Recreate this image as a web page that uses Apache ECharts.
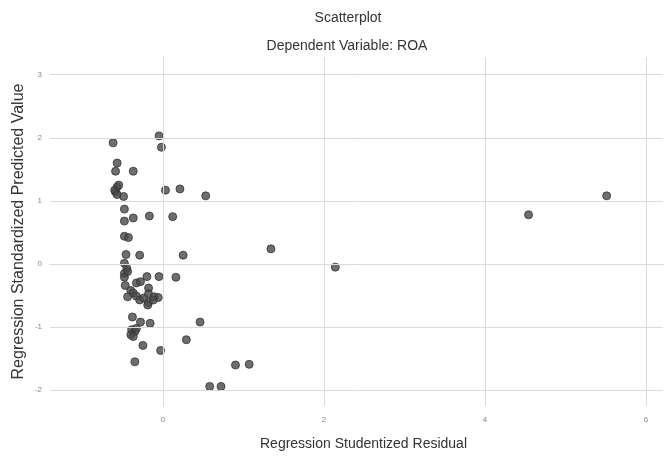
<!DOCTYPE html>
<html>
<head>
<meta charset="utf-8">
<script src="https://cdn.jsdelivr.net/npm/echarts@6/dist/echarts.min.js"></script>
<style>html,body{margin:0;padding:0;background:#fff}#c{width:665px;height:457px}</style>
</head>
<body>
<div id="c"></div>
<script>
var residuals = [-0.05,-0.62,-0.02,-0.57,-0.59,-0.37,-0.57,-0.59,-0.60,-0.55,-0.57,-0.49,0.03,0.21,0.53,
 -0.48,-0.48,-0.37,-0.17,0.12,-0.48,-0.43,1.34,-0.46,-0.29,0.25,
 -0.48,-0.45,-0.48,-0.44,-0.48,-0.20,-0.05,0.16,-0.33,-0.28,-0.47,
 -0.40,-0.37,-0.44,-0.33,-0.29,-0.24,-0.18,-0.18,-0.11,-0.06,-0.18,-0.19,-0.12,
 -0.38,-0.28,-0.16,0.46,-0.39,-0.35,-0.33,-0.40,-0.37,0.29,-0.25,-0.03,-0.35,0.90,1.07,0.58,0.72,
 2.14,4.54,5.51];
var predicted = [2.03,1.92,1.85,1.60,1.47,1.47,1.22,1.14,1.17,1.25,1.10,1.07,1.17,1.19,1.08,
 0.87,0.68,0.73,0.76,0.75,0.44,0.42,0.24,0.15,0.14,0.14,
 0.01,-0.07,-0.15,-0.12,-0.21,-0.20,-0.20,-0.21,-0.30,-0.28,-0.34,
 -0.42,-0.46,-0.52,-0.51,-0.57,-0.54,-0.38,-0.47,-0.52,-0.53,-0.61,-0.65,-0.57,
 -0.84,-0.92,-0.94,-0.92,-1.04,-1.07,-1.02,-1.12,-1.15,-1.20,-1.29,-1.37,-1.55,-1.60,-1.59,-1.94,-1.94,
 -0.05,0.78,1.08];
var xTicks = [0, 2, 4, 6];
var yTicks = [-2, -1, 0, 1, 2, 3];

var points = residuals.map(function (x, i) { return [x, predicted[i]]; });
var gridLines = xTicks.map(function (v) { return { xAxis: v }; })
  .concat(yTicks.map(function (v) { return { yAxis: v }; }));

var chart = echarts.init(document.getElementById('c'));
var font = 'Liberation Sans, Arial, sans-serif';
chart.setOption({
  animation: false,
  backgroundColor: '#fff',
  title: [
    { text: 'Scatterplot', left: 343, top: 6, textAlign: 'center',
      textStyle: { fontSize: 14, fontWeight: 'normal', color: '#333', fontFamily: font } },
    { text: 'Dependent Variable: ROA', left: 342, top: 34, textAlign: 'center',
      textStyle: { fontSize: 14, fontWeight: 'normal', color: '#333', fontFamily: font } }
  ],
  grid: { left: 50, right: 2, top: 57, bottom: 51, containLabel: false },
  xAxis: {
    type: 'value', min: -1.404, max: 6.21,
    name: 'Regression Studentized Residual', nameLocation: 'middle', nameGap: 31,
    nameMoveOverlap: false,
    nameTextStyle: { fontSize: 14, color: '#333', fontFamily: font, padding: [0, 0, 0, 14] },
    axisLine: { show: true, lineStyle: { color: '#aaa' } },
    axisTick: { show: false },
    splitLine: { show: false },
    axisLabel: { customValues: xTicks, fontSize: 8, color: '#888', margin: 10, fontFamily: font }
  },
  yAxis: {
    type: 'value', min: -2.25, max: 3.28,
    name: 'Regression Standardized Predicted Value', nameLocation: 'middle', nameGap: 23,
    nameMoveOverlap: false,
    nameTextStyle: { fontSize: 16, color: '#333', fontFamily: font },
    axisLine: { show: true, lineStyle: { color: '#aaa' } },
    axisTick: { show: false },
    splitLine: { show: false },
    axisLabel: { customValues: yTicks, fontSize: 8, color: '#888', margin: 8, fontFamily: font }
  },
  series: [{
    type: 'scatter',
    data: points,
    symbolSize: 8,
    itemStyle: { color: '#4a4a4a', borderColor: '#333', borderWidth: 1 },
    markLine: {
      silent: true, symbol: 'none', animation: false,
      label: { show: false },
      lineStyle: { color: '#dadada', type: 'solid', width: 1 },
      data: gridLines
    }
  }]
});
</script>
</body>
</html>
